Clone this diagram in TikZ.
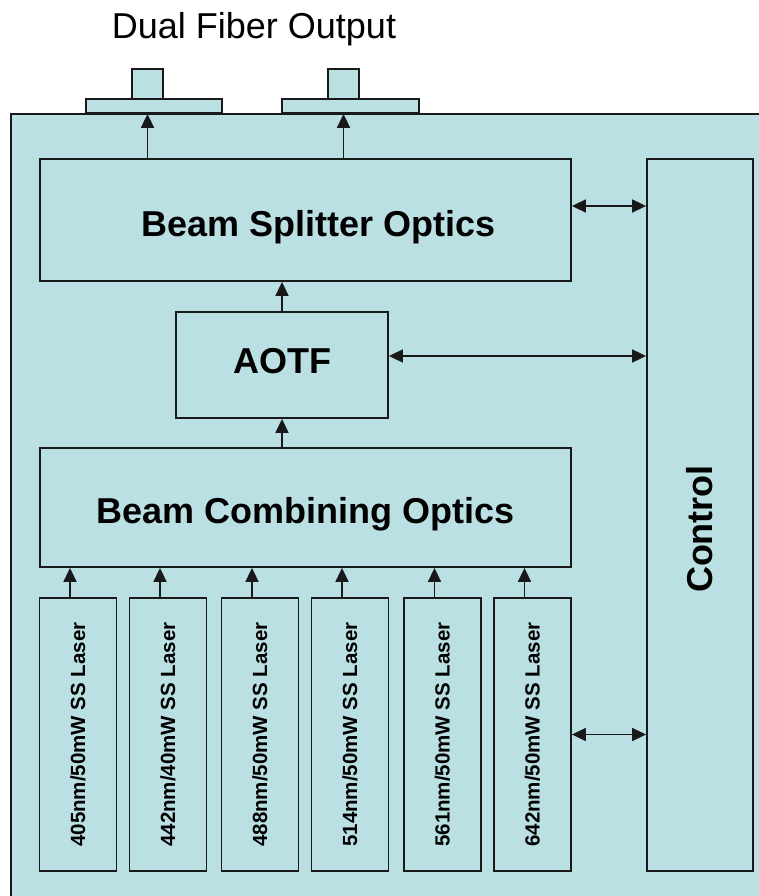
\documentclass[tikz,border=0pt]{standalone}
\usepackage{fontspec}
\setmainfont{Liberation Sans}
\usetikzlibrary{arrows.meta}
\definecolor{panel}{RGB}{187,224,227}
\definecolor{edge}{RGB}{25,25,25}
\newcommand{\shiftv}[2]{\raisebox{#1}[\height][\depth]{#2}}
\begin{document}
\begin{tikzpicture}[x=1pt,y=-1pt,
  box/.style={draw=edge, line width=1.8pt, fill=panel, inner sep=0pt, rectangle},
  arr/.style={draw=edge, line width=1.7pt, -{Triangle[length=14pt,width=13pt]}},
  dbl/.style={draw=edge, line width=1.7pt, {Triangle[length=14pt,width=13pt]}-{Triangle[length=14pt,width=13pt]}},
  big/.style={font=\fontsize{36}{40}\selectfont\bfseries},
  lab/.style={font=\fontsize{20.5}{22}\selectfont\bfseries},
  laser/.style={box, minimum width=77pt, minimum height=273pt, lab}]
\useasboundingbox (0,0) rectangle (759,896);
\clip (0,0) rectangle (759,896);
% housing
\node[box, anchor=north west, minimum width=800pt, minimum height=820pt] (housing) at (10,113) {};
% title
\node[font=\fontsize{36}{40}\selectfont, anchor=base] (title) at (254,39) {Dual Fiber Output};
% fiber connectors
\node[box, minimum width=136pt, minimum height=14pt] (f1) at (154,106) {};
\node[box, minimum width=137pt, minimum height=14pt] (f2) at (350.5,106) {};
\node[box, minimum width=31pt, minimum height=30pt] (c1) at (147.5,84) {};
\node[box, minimum width=31pt, minimum height=30pt] (c2) at (343.5,84) {};
% main blocks
\node[box, big, minimum width=531pt, minimum height=122pt] (bso) at (305.5,220) {\hspace*{27pt}\shiftv{-7pt}{Beam Splitter Optics}};
\node[box, big, minimum width=212pt, minimum height=106pt] (aotf) at (282,365) {\shiftv{4pt}{AOTF}};
\node[box, big, minimum width=531pt, minimum height=119pt] (bco) at (305.5,507.5) {\shiftv{-7pt}{Beam Combining Optics}};
\node[box, big, minimum width=106pt, minimum height=712pt] (ctrl) at (700,515) {\rotatebox{90}{Control\hspace*{28pt}}};
% lasers
\node[laser] (l1) at (78,734.5)  {\rotatebox{90}{405nm/50mW SS Laser}};
\node[laser] (l2) at (168,734.5) {\rotatebox{90}{442nm/40mW SS Laser}};
\node[laser] (l3) at (260,734.5) {\rotatebox{90}{488nm/50mW SS Laser}};
\node[laser] (l4) at (350,734.5) {\rotatebox{90}{514nm/50mW SS Laser}};
\node[laser] (l5) at (442.5,734.5) {\rotatebox{90}{561nm/50mW SS Laser}};
\node[laser] (l6) at (532.5,734.5) {\rotatebox{90}{642nm/50mW SS Laser}};
% connectors
\draw[arr] (c1.center |- bso.north) -- (c1.center |- f1.south);
\draw[arr] (c2.center |- bso.north) -- (c2.center |- f2.south);
\draw[arr] (aotf.north) -- (aotf.north |- bso.south);
\draw[arr] (aotf.south |- bco.north) -- (aotf.south);
\foreach \l in {l1,l2,l3,l4,l5,l6}{
  \draw[arr] ([xshift=-8pt]\l.north) -- ([xshift=-8pt]\l.north |- bco.south);
}
\draw[dbl] ([yshift=14pt]bso.east) -- ([yshift=14pt]bso.east -| ctrl.west);
\draw[dbl] ([yshift=9pt]aotf.east) -- ([yshift=9pt]aotf.east -| ctrl.west);
\draw[dbl] (l6.east) -- (l6.east -| ctrl.west);
\end{tikzpicture}
\end{document}
